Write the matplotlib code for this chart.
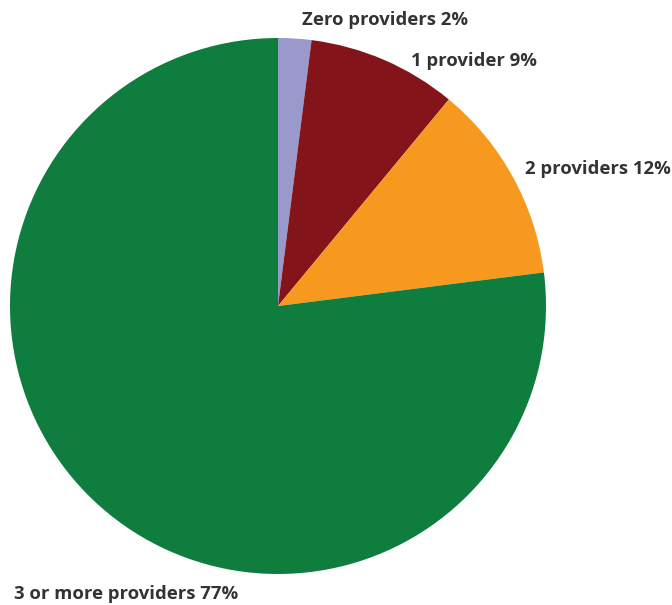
import matplotlib
matplotlib.use('Agg')
import matplotlib.pyplot as plt

labels = ['Zero providers', '1 provider', '2 providers', '3 or more providers']
shares = [2, 9, 12, 77]
colors = ['#9999cc', '#82141a', '#f7991f', '#0f7d3e']

# label anchor positions in pixels (left edge, vertical centre), top-down
label_pos = [(302, 20), (411, 61), (525, 169), (14, 594)]

W, H = 672, 605
fig = plt.figure(figsize=(W / 100, H / 100), dpi=100)
ax = fig.add_axes([0, 0, 1, 1])

ax.pie(shares, colors=colors, startangle=90, counterclock=False,
       center=(278, H - 306), radius=268, frame=True,
       wedgeprops=dict(linewidth=0))
ax.set_xlim(0, W)
ax.set_ylim(0, H)
ax.set_aspect('equal')
ax.axis('off')

for lab, val, (x, y) in zip(labels, shares, label_pos):
    ax.text(x, H - y, f'{lab} {val}%', ha='left', va='center',
            fontsize=13.3, fontweight='bold', family=['Open Sans', 'DejaVu Sans'],
            color='#333333')

fig.savefig('out.png', dpi=100)
